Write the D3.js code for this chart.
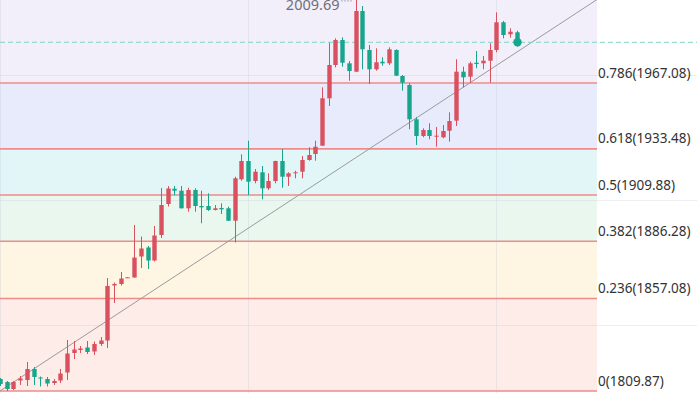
<!DOCTYPE html>
<html><head><meta charset="utf-8">
<script src="https://cdn.jsdelivr.net/npm/d3@7"></script>
<style>html,body{margin:0;padding:0;background:#fff;overflow:hidden}svg{display:block}</style>
</head><body><svg id="c" width="697" height="393"></svg>
<script>
const opens = [1816.0,1814.46,1810.89,1815.23,1815.48,1821.10,1816.76,1815.99,1813.95,1815.23,1819.31,1829.27,1830.80,1832.07,1830.03,1833.86,1835.65,1863.72,1864.48,1867.7,1867.80,1878.52,1883.11,1876.48,1889.50,1905.32,1913.13,1912.11,1903.12,1912.46,1904.30,1904.30,1902.26,1903.28,1903.12,1896.79,1917.93,1927.27,1917.06,1921.50,1913.33,1917.06,1927.27,1919.25,1920.99,1921.81,1927.78,1930.84,1935.08,1959.27,1976.27,1989.03,1977.13,1972.85,2003.83,1983.92,1974.07,1977.95,1977.13,1983.92,1970.65,1966.06,1948.55,1940.03,1943.09,1939.67,1939.36,1942.73,1947.84,1972.85,1970.29,1977.44,1977.13,1978.46,1983.92,1998.06,1991.94,1992.96];
const closes = [1813.44,1810.89,1814.46,1816.25,1821.10,1817.02,1816.25,1813.70,1814.97,1818.80,1829.01,1831.05,1831.56,1829.78,1833.86,1835.65,1863.46,1864.48,1867.29,1867.9,1878.01,1882.60,1876.48,1889.24,1904.81,1913.23,1912.11,1903.12,1912.46,1904.30,1903.63,1902.26,1903.12,1902.61,1896.79,1918.44,1927.27,1916.70,1921.81,1913.33,1917.06,1927.27,1919.25,1920.99,1921.50,1927.78,1930.33,1934.56,1959.27,1976.27,1989.03,1977.44,1973.20,2003.83,1984.28,1974.07,1977.65,1977.13,1984.28,1970.81,1967.23,1948.55,1940.03,1943.09,1940.03,1940.18,1942.58,1947.68,1972.85,1969.99,1977.13,1976.78,1978.46,1983.92,1998.06,1991.58,1993.26,1987.85];
const highs = [1816.51,1814.97,1814.97,1817.53,1824.67,1822.12,1817.27,1817.02,1815.99,1821.10,1835.90,1835.39,1832.84,1835.39,1835.14,1837.43,1867.55,1865.25,1870.61,1868.0,1894.60,1888.73,1883.88,1894.09,1913.49,1914.51,1914.51,1914.51,1913.64,1913.33,1912.11,1910.78,1904.81,1905.68,1903.94,1919.25,1930.69,1937.63,1923.18,1924.71,1920.99,1927.42,1933.39,1921.50,1922.32,1929.82,1934.26,1937.63,1964.88,1987.65,1989.89,1990.40,1978.31,2009.69,2006.38,1986.48,1984.79,1980.20,1985.30,1984.28,1971.16,1966.93,1949.57,1943.96,1946.51,1944.62,1945.64,1952.12,1979.18,1975.40,1977.95,1983.41,1980.86,1987.34,2003.16,1998.73,1995.00,1993.77];
const lows = [1812.42,1809.87,1810.38,1812.93,1812.42,1812.93,1812.17,1812.17,1812.93,1813.95,1815.48,1826.20,1829.27,1828.76,1828.25,1832.84,1831.82,1854.79,1863.72,1867.6,1867.70,1872.65,1872.14,1875.97,1887.96,1904.04,1909.91,1903.02,1901.39,1901.39,1895.47,1901.75,1902.00,1900.21,1896.64,1885.67,1917.21,1909.91,1915.88,1907.72,1912.46,1915.88,1913.64,1914.51,1918.44,1918.44,1927.42,1927.42,1935.0,1955.34,1975.09,1975.40,1968.25,1972.6,1974.07,1966.57,1973.36,1975.91,1976.27,1970.65,1963.15,1943.45,1935.43,1939.36,1938.34,1934.56,1938.85,1937.12,1945.13,1964.88,1967.23,1974.58,1974.07,1967.23,1982.75,1989.89,1990.20,1985.61];
const categories = opens.map((_, i) => i);

const fibRatios = [0, 0.236, 0.382, 0.5, 0.618, 0.786, 1];
const fibPrices = [1809.87, 1857.08, 1886.28, 1909.88, 1933.48, 1967.08, 2009.88];
const bandColors = ["#fdece7", "#fff5e3", "#e9f7ef", "#e2f6f8", "#e8ebfb", "#f2eefa"];
const maxLabel = "2009.69";
const trendStart = [0, 1809.87];
const trendEnd = [89, 2009.69];
const yGridValues = [1843.6, 1907.4, 1971.2];
const xGridIdx = [0, 37, 74];
const fibEndIdx = 89;

const W = 697, H = 393;
const svg = d3.select("#c");
const x = d3.scaleLinear().domain([0, 89]).range([0, 597]);
const y = d3.scaleLinear().domain([1809.87, 1967.08]).range([391, 83]);
const upColor = "#d9515f", downColor = "#17a68c";

// bands
const bands = fibRatios.slice(0, -1).map((r, i) => ({lo: fibPrices[i], hi: fibPrices[i + 1], c: bandColors[i]}));
svg.append("g").selectAll("rect").data(bands).join("rect")
  .attr("x", x(0)).attr("width", x(fibEndIdx) - x(0))
  .attr("y", d => Math.min(y(d.hi), y(d.lo)) < 0 ? y(d.hi) : y(d.hi))
  .attr("height", d => y(d.lo) - y(d.hi))
  .attr("fill", d => d.c);

// grid lines
svg.append("g").selectAll("line").data(yGridValues).join("line")
  .attr("x1", 0).attr("x2", W).attr("y1", d => Math.round(y(d)) + 0.5).attr("y2", d => Math.round(y(d)) + 0.5)
  .attr("stroke", "#c9cdd8").attr("stroke-opacity", 0.35).attr("stroke-width", 1);
svg.append("g").selectAll("line").data(xGridIdx).join("line")
  .attr("x1", d => Math.round(x(d)) + 0.5).attr("x2", d => Math.round(x(d)) + 0.5).attr("y1", 0).attr("y2", H)
  .attr("stroke", "#c9cdd8").attr("stroke-opacity", 0.35).attr("stroke-width", 1);

// fib level lines
const levels = fibRatios.map((r, i) => ({r, p: fibPrices[i]})).filter(d => d.r < 1);
svg.append("g").selectAll("line").data(levels).join("line")
  .attr("x1", x(0)).attr("x2", x(fibEndIdx))
  .attr("y1", d => y(d.p)).attr("y2", d => y(d.p))
  .attr("stroke", "#ef8b8b").attr("stroke-width", 1.6);
svg.append("g").selectAll("text").data(levels).join("text")
  .attr("x", x(fibEndIdx) + 1).attr("y", d => y(d.p) - 5.5)
  .attr("font-family", "Noto Sans, sans-serif").attr("font-size", 13.5).attr("fill", "#333")
  .text(d => `${d.r}(${d.p.toFixed(2)})`);

// trend line
svg.append("line")
  .attr("x1", x(trendStart[0])).attr("y1", y(trendStart[1]))
  .attr("x2", x(trendEnd[0])).attr("y2", y(trendEnd[1]))
  .attr("stroke", "#9b9b9b").attr("stroke-width", 1);

// last price dashed line
const lastClose = closes[closes.length - 1];
svg.append("line")
  .attr("x1", 0).attr("x2", W).attr("y1", y(lastClose)).attr("y2", y(lastClose))
  .attr("stroke", "#7fd6c6").attr("stroke-width", 1).attr("stroke-dasharray", "5,3");

// candles
const bw = 4.4;
const cg = svg.append("g").selectAll("g").data(categories).join("g");
cg.append("line")
  .attr("x1", i => Math.round(x(i)) + 0.5).attr("x2", i => Math.round(x(i)) + 0.5)
  .attr("y1", i => y(highs[i])).attr("y2", i => y(lows[i]))
  .attr("stroke", i => closes[i] >= opens[i] ? upColor : downColor).attr("stroke-width", 1);
cg.append("rect")
  .attr("x", i => Math.round(x(i)) + 0.5 - bw / 2).attr("width", bw)
  .attr("y", i => y(Math.max(opens[i], closes[i])))
  .attr("height", i => Math.max(1, Math.abs(y(opens[i]) - y(closes[i]))))
  .attr("fill", i => closes[i] >= opens[i] ? upColor : downColor);

// last candle marker
const li = categories.length - 1;
svg.append("circle").attr("cx", Math.round(x(li)) + 0.5).attr("cy", y(lastClose)).attr("r", 4.2).attr("fill", downColor);

// max label
const maxIdx = highs.indexOf(d3.max(highs));
svg.append("text").attr("x", x(maxIdx) - 16).attr("y", y(highs[maxIdx]) + 10.5)
  .attr("text-anchor", "end").attr("font-family", "Noto Sans, sans-serif").attr("font-size", 14.5)
  .attr("fill", "#6e7079").text(maxLabel);
svg.append("line").attr("x1", x(maxIdx) - 14).attr("x2", x(maxIdx) - 2)
  .attr("y1", 0.8).attr("y2", 0.8).attr("stroke", "#8a8c96").attr("stroke-width", 1.2).attr("stroke-dasharray", "1,2");
</script></body></html>
